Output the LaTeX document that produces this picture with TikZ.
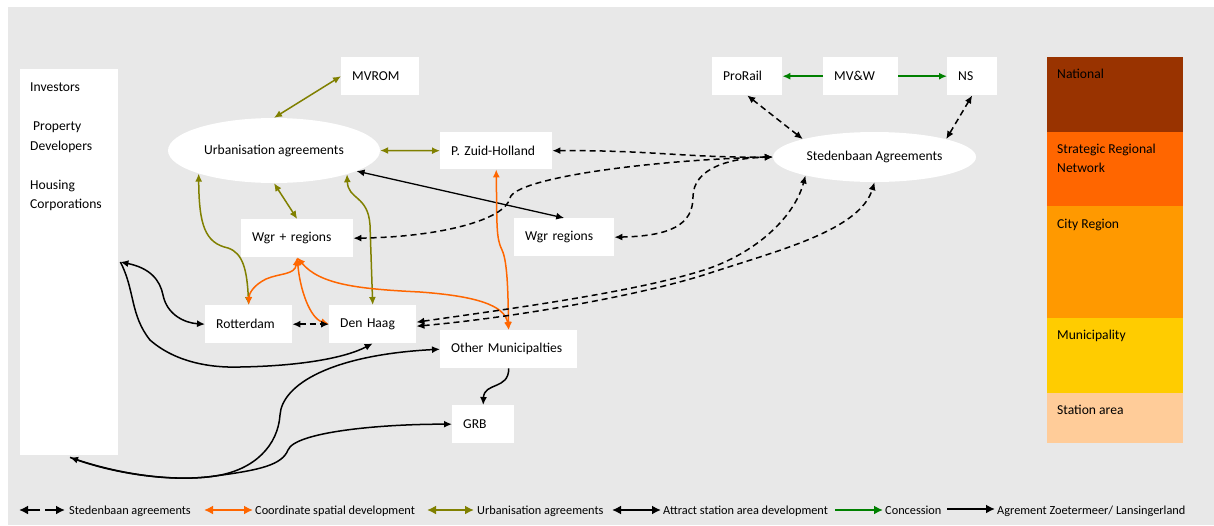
\documentclass[tikz,border=0pt]{standalone}
\usepackage{fontspec}
\setmainfont{Carlito}
\usetikzlibrary{arrows.meta,shapes.geometric,calc}
\definecolor{bg}{HTML}{E8E8E8}
\definecolor{olv}{HTML}{808000}
\definecolor{org}{HTML}{FF6600}
\definecolor{grn}{HTML}{008000}
\definecolor{nat}{HTML}{993300}
\definecolor{srn}{HTML}{FF6600}
\definecolor{cty}{HTML}{FF9900}
\definecolor{mun}{HTML}{FFCC00}
\definecolor{sta}{HTML}{FFCC99}
\begin{document}
\begin{tikzpicture}[x=1pt,y=-1pt,
  font=\fontsize{13.6}{19.5}\selectfont,
  box/.style={fill=white, anchor=north west, inner xsep=11pt, inner ysep=0pt, minimum height=38pt, align=left, text width=#1},
  ell/.style={ellipse, fill=white, inner sep=0pt},
  conn/.style={line width=1.5pt},
  hd/.style={-{Latex[length=8pt,width=7pt]}},
  dhd/.style={{Latex[length=8pt,width=7pt]}-{Latex[length=8pt,width=7pt]}},
  dsh/.style={dash pattern=on 6pt off 4pt},
  leg/.style={line width=2.6pt},
  lhd/.style={-{Latex[length=9pt,width=9pt]}},
  ldhd/.style={{Latex[length=9pt,width=9pt]}-{Latex[length=9pt,width=9pt]}},
  legtxt/.style={anchor=base west, inner sep=0pt, font=\fontsize{12.3}{14}\selectfont},
  bartxt/.style={anchor=base west, inner sep=0pt, align=left}
]
\useasboundingbox (0,0) rectangle (1214,525);
\fill[white] (0,0) rectangle (1214,525);
\fill[bg] (8,7) rectangle (1214,525);

% level bar
\fill[nat] (1047,57) rectangle (1183,132);
\fill[srn] (1047,132) rectangle (1183,206);
\fill[cty] (1047,206) rectangle (1183,318);
\fill[mun] (1047,318) rectangle (1183,393);
\fill[sta] (1047,393) rectangle (1183,443);
\node[bartxt] (tnat) at (1057,78.2) {National};
\node[bartxt] (tsrn) at (1057,172.7) {Strategic Regional\\Network};
\node[bartxt] (tcty) at (1057,228.2) {City Region};
\node[bartxt] (tmun) at (1057,339.2) {Municipality};
\node[bartxt] (tsta) at (1057,414.2) {Station area};

% actors
\node[fill=white, anchor=north west, minimum width=98pt, minimum height=386pt, inner sep=0pt] (inv) at (20,69) {};
\node[anchor=north west, align=left, inner sep=0pt] (invtxt) at (30,83) {Investors\\[19.5pt]\hspace{3pt}Property\\Developers\\[19.5pt]Housing\\Corporations};

\node[box=56pt] (mvrom) at (341,57) {MVROM};
\node[box=48pt] (prorail) at (712,57) {ProRail};
\node[box=53pt] (mvw) at (823,57) {MV\&W};
\node[box=28pt] (ns) at (947,57) {NS};
\node[box=90pt, minimum height=37pt] (pzh) at (440,132) {P. Zuid-Holland};
\node[box=90pt] (wgrp) at (241,219) {Wgr + regions};
\node[box=78pt] (wgr) at (514,218) {Wgr regions};
\node[box=65pt] (rot) at (205,305) {Rotterdam};
\node[box=65pt] (dh) at (329,305) {Den Haag};
\node[box=115pt] (om) at (440,330) {Other Municipalties};
\node[box=40pt] (grb) at (452,405) {GRB};
\node[ell, minimum width=212pt, minimum height=65pt] (urb) at (274,150.5) {Urbanisation agreements};
\node[ell, minimum width=203pt, minimum height=50pt] (sted) at (874.5,157) {Stedenbaan Agreements};

% urbanisation agreements (olive)
\draw[conn,olv,dhd] (urb.north) -- (mvrom.west);
\draw[conn,olv,dhd] (urb.east) -- (pzh.west);
\draw[conn,olv,dhd] (urb.south) -- (wgrp.north);
\draw[conn,olv,dhd] (urb.197) .. controls (199,225) and (205,243) .. (228,248) .. controls (243,253) and (247,270) .. (rot.north);
\draw[conn,olv,dhd] (urb.342) .. controls (348,200) and (368,195) .. (370,225) -- (dh.north);

% Zoetermeer / Lansingerland (black)
\draw[line width=1.3pt,dhd] (urb.346) -- (wgr.north);

% attract station area development (black)
\coordinate (invr) at ($(inv.north east)+(2,193)$);
\coordinate (invb) at ($(inv.south west)+(50,2)$);
\draw[conn,dhd] (invr) .. controls (150,268) and (160,280) .. (163,295) .. controls (167,315) and (185,323) .. (rot.west);
\draw[conn,hd] (invr) .. controls (135,290) and (130,315) .. (150,340) .. controls (175,362) and (210,368) .. (240,367) .. controls (300,366) and (345,358) .. (dh.south);
\draw[conn,dhd] (invb) .. controls (120,475) and (175,482) .. (215,476) .. controls (255,470) and (278,445) .. (280,415) .. controls (282,385) and (330,355) .. (om.west);
\draw[conn,hd] (invb) .. controls (120,475) and (175,482) .. (215,476) .. controls (260,470) and (282,465) .. (288,450) .. controls (295,432) and (380,424) .. (grb.west);
\draw[conn,hd] (om.south) .. controls (509,390) and (484,382) .. (grb.north);

% coordinate spatial development (orange)
\draw[conn,org,dhd] (wgrp.south) .. controls (295,275) and (280,273) .. (266,279) .. controls (254,285) and (249,293) .. (rot.north);
\draw[conn,org,dhd] (wgrp.south) .. controls (300,290) and (310,318) .. (dh.west);
\draw[conn,org,dhd] (wgrp.south) .. controls (320,285) and (360,289) .. (420,292) .. controls (475,296) and (505,305) .. (om.north);
\draw[conn,org,dhd] (pzh.south) .. controls (497,225) and (496,238) .. (502,250) .. controls (508,262) and (508,300) .. (om.north);

% Stedenbaan agreements (dashed)
\draw[conn,dsh,dhd] (prorail.south) -- (sted.166);
\draw[conn,dsh,dhd] (ns.south) -- (sted.14);
\draw[conn,dsh,dhd] (pzh.east) .. controls (650,150) and (690,158) .. (sted.west);
\draw[conn,dsh,dhd] (wgrp.east) .. controls (440,237) and (505,220) .. (510,198) .. controls (515,178) and (650,160) .. (sted.west);
\draw[conn,dsh,dhd] (wgr.east) .. controls (670,236) and (693,225) .. (693,197) .. controls (693,168) and (730,158) .. (sted.west);
\draw[conn,dsh,dhd] ($(dh.east)+(0,-2)$) .. controls (500,310) and (640,292) .. (710,268) .. controls (760,250) and (795,215) .. (sted.195);
\draw[conn,dsh,dhd] ($(dh.east)+(0,2)$) .. controls (510,318) and (640,296) .. (710,273) .. controls (780,250) and (860,230) .. (sted.south);
\draw[conn,dsh,dhd] (rot.east) -- (dh.west);

% concession (green)
\draw[conn,grn,hd] (mvw.west) -- (prorail.east);
\draw[conn,grn,hd] (mvw.east) -- (ns.west);

% legend
\coordinate (l1a) at (40,510); \coordinate (l1b) at (19,510);
\coordinate (l2a) at (45,510); \coordinate (l2b) at (65,510);
\coordinate (l3a) at (204,510); \coordinate (l3b) at (253,510);
\coordinate (l4a) at (427,510); \coordinate (l4b) at (474,510);
\coordinate (l5a) at (612,510); \coordinate (l5b) at (661,510);
\coordinate (l6a) at (835,510); \coordinate (l6b) at (883,510);
\coordinate (l7a) at (947,509); \coordinate (l7b) at (995,509);
\draw[leg,lhd] (l1a) -- (l1b);
\draw[leg,lhd] (l2a) -- (l2b);
\draw[leg,org,ldhd] (l3a) -- (l3b);
\draw[leg,olv,ldhd] (l4a) -- (l4b);
\draw[leg,ldhd] (l5a) -- (l5b);
\draw[leg,grn,lhd] (l6a) -- (l6b);
\draw[leg,lhd] (l7a) -- (l7b);
\node[legtxt] (g1) at (69,514) {Stedenbaan agreements};
\node[legtxt] (g2) at (255,514) {Coordinate spatial development};
\node[legtxt] (g3) at (477,514) {Urbanisation agreements};
\node[legtxt] (g4) at (663,514) {Attract station area development};
\node[legtxt] (g5) at (885,514) {Concession};
\node[legtxt] (g6) at (997,514) {Agrement Zoetermeer/ Lansingerland};
\end{tikzpicture}
\end{document}
